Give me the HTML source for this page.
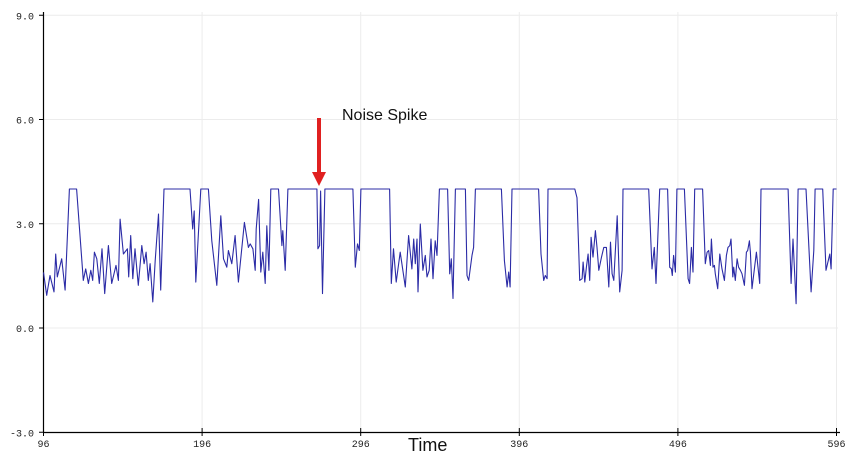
<!DOCTYPE html>
<html><head><meta charset="utf-8"><style>
html,body{margin:0;padding:0;background:#fff;}
svg{display:block;}
</style></head><body>
<svg id="chart" width="857" height="458" viewBox="0 0 857 458" xmlns="http://www.w3.org/2000/svg">
<g id="grid"></g>
<g id="axes"></g>
<path id="series" fill="none" stroke="#2b2ba6" stroke-width="1.1" stroke-linejoin="round"/>
<text x="408" y="451" font-family="Liberation Sans, sans-serif" font-size="18" fill="#111">Time</text>
<text x="342" y="120" font-family="Liberation Sans, sans-serif" font-size="16" fill="#111">Noise Spike</text>
<g>
<line x1="319" y1="118" x2="319" y2="174" stroke="#e02020" stroke-width="4"/>
<polygon points="312,172 326,172 319,186" fill="#e02020"/>
</g>
</svg>
<script>
const xTicks = [96,196,296,396,496,596];
const yTicks = [-3,0,3,6,9];
const yTickLabels = ["-3.0","0.0","3.0","6.0","9.0"];
const times = [96,98,100.1,102.6,103.7,104.7,107.5,109.6,112.3,116.9,121.1,122.6,124.3,125.8,127,128.1,129.6,131.2,132.9,134.6,136.9,139,141.7,143.2,144.3,146.4,148.9,149.7,151,152.3,153.7,155.8,158,159.4,160.7,162.1,163.2,164.9,166.4,168.5,169.9,172,188.4,190.1,191,192,195.2,200,202.1,205.3,207.8,209.5,211.6,212.6,214.7,216.8,218.9,222.7,225.2,226.3,228,229.5,230.1,231.6,233,234.3,235.8,236.8,238.1,239.3,244.2,246.3,246.9,248.4,250.1,268.4,269,270.1,270.7,271.9,273.4,291.1,292.6,294,295.1,296.1,314.2,315.3,316.7,318.4,320.9,324.1,326.2,328.3,329.4,330.4,331.5,332.1,333.6,335.2,336.7,337.8,339.2,340.3,341.6,343,344.1,345.6,350.8,352.1,353.1,354.2,355.7,362,363,364.1,366.2,367.2,368.3,384.7,386.6,388.3,389.3,390.2,391.4,408.2,409.7,411.4,412.4,413.5,414.1,431,432.4,434.1,435.6,436.2,437.3,438.3,439.4,440.4,441.3,442.5,444,445,446.1,447.8,449.3,450.9,452.4,453.5,454.5,455.6,457.7,459.3,460.8,461.4,477.6,479.7,481.1,482.2,484.5,489.5,490.8,491.9,492.5,493.3,494.4,495.4,500.1,502.4,503.4,504.5,505.5,506.6,511.6,513.3,514.4,515.4,516.5,517.1,518.1,519,519.6,521.1,522.4,523.8,525.3,526.6,527.6,528.7,529.5,530.6,531.2,532.2,533.3,534.3,535.4,536.4,537.9,539.2,540,541.1,541.7,542.7,545.5,547.6,548.4,565.5,567.4,568.6,570.5,571.8,576.8,580,581.7,582.5,587.3,589.4,591.8,592.6,593.9,596];
const values = [1.6,0.94,1.51,1.04,2.13,1.47,1.99,1.09,4,4,1.37,1.7,1.28,1.66,1.37,2.18,1.99,1.28,2.28,0.99,2.37,1.28,1.8,1.37,3.13,2.13,2.28,1.47,2.66,1.42,2.28,1.23,2.37,1.85,2.18,1.37,1.85,0.75,1.94,3.28,1.09,4,4,2.85,3.37,1.32,4,4,2.51,1.23,3.23,1.99,1.75,2.23,1.85,2.66,1.32,3.04,2.32,2.42,2.28,1.66,2.85,3.7,1.61,2.18,1.28,2.94,1.66,4,4,2.37,2.8,1.66,4,4,2.28,2.37,3.94,0.99,4,4,1.75,2.42,2.23,4,4,1.28,2.28,1.32,2.18,1.18,2.66,1.7,2.56,1.85,2.56,1.04,2.99,1.66,2.09,1.47,1.66,2.56,1.42,2.51,2.09,4,4,1.56,1.99,0.85,4,4,1.51,1.37,2.09,2.32,4,4,1.94,1.18,1.61,1.18,4,4,2.13,1.37,1.51,1.42,4,4,3.75,1.37,1.42,1.9,1.32,1.75,2.13,1.37,2.61,2.04,2.8,2.32,1.66,2.04,2.32,2.32,1.18,2.47,1.56,1.37,3.23,1.04,1.66,4,4,1.7,2.32,1.28,4,4,1.75,1.7,1.51,2.09,1.61,4,4,1.42,1.28,2.32,1.61,4,4,1.85,2.18,2.23,1.8,2.56,1.75,1.8,1.56,1.13,2.13,1.7,1.37,2.09,2.32,2.37,2.56,1.47,1.75,1.37,1.99,1.75,1.66,1.56,1.23,2.18,2.23,2.51,2.18,1.13,2.18,1.28,4,4,1.28,2.56,0.7,4,4,1.04,2.23,4,4,1.66,2.13,1.7,4,4];

const NS = "http://www.w3.org/2000/svg";
const xScale = t => 43.5 + (t - 96) * 1.586;
const yScale = v => 328 - v * 34.75;

const grid = document.getElementById('grid');
const axes = document.getElementById('axes');
function mk(tag, attrs, parent){ const e=document.createElementNS(NS,tag); for(const k in attrs) e.setAttribute(k,attrs[k]); parent.appendChild(e); return e; }

xTicks.forEach(t => {
  const x = xScale(t);
  if (t !== 96) {
    const g = mk('line',{x1:x,y1:12,x2:x,y2:432,stroke:'#ececec','stroke-width':1},grid);
    
    
  }
  const tk = mk('line',{x1:x,y1:428,x2:x,y2:436,stroke:'#000','stroke-width':1},axes);
  
  
  const lb = mk('text',{x:x,y:447,'text-anchor':'middle','font-family':'Liberation Mono, monospace','font-size':10,fill:'#222'},axes);
  lb.textContent = t;
  
  
});
yTicks.forEach((v,i) => {
  const y = yScale(v);
  if (v !== -3) {
    const g = mk('line',{x1:43.5,y1:y,x2:838,y2:y,stroke:'#ececec','stroke-width':1},grid);
    
    
  }
  const tk = mk('line',{x1:39,y1:y,x2:44,y2:y,stroke:'#000','stroke-width':1},axes);
  
  
  const lb = mk('text',{x:34,y:y+4,'text-anchor':'end','font-family':'Liberation Mono, monospace','font-size':10,fill:'#222'},axes);
  lb.textContent = yTickLabels[i];
  
  
});
const ya = mk('line',{x1:43.5,y1:12,x2:43.5,y2:432.5,stroke:'#000','stroke-width':1.2},axes);


const xa = mk('line',{x1:43.5,y1:432.5,x2:840,y2:432.5,stroke:'#000','stroke-width':1.2},axes);



let d = '';
times.forEach((t,i) => { d += (i ? 'L' : 'M') + xScale(t).toFixed(1) + ',' + yScale(values[i]).toFixed(1); });
document.getElementById('series').setAttribute('d', d);
</script>
</body></html>
